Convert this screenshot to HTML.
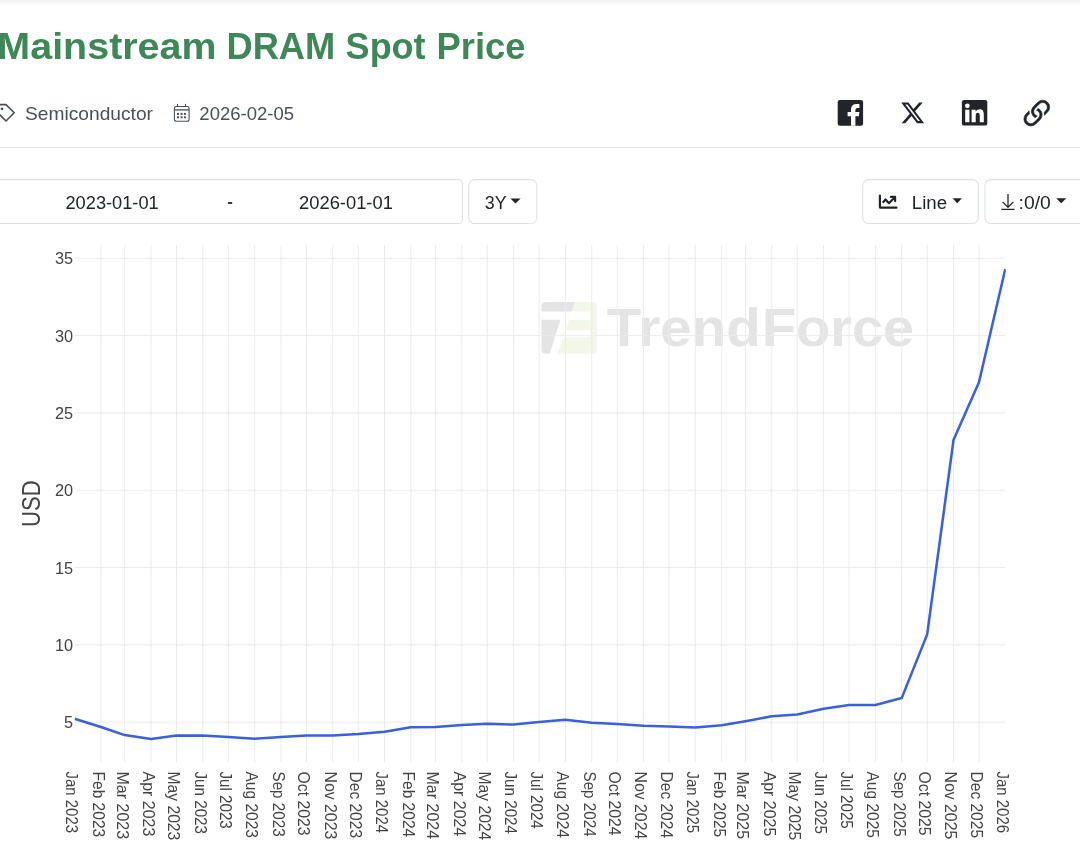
<!DOCTYPE html>
<html><head><meta charset="utf-8"><title>Mainstream DRAM Spot Price</title>
<style>
html,body{margin:0;padding:0;background:#fff;width:1080px;height:868px;overflow:hidden;}
svg{display:block;will-change:transform;font-family:"Liberation Sans",sans-serif;}
</style></head><body>
<svg width="1080" height="868" viewBox="0 0 1080 868">
<defs><linearGradient id="topg" x1="0" y1="0" x2="0" y2="1"><stop offset="0" stop-color="#f2f2f2"/><stop offset="1" stop-color="#ffffff"/></linearGradient></defs>
<rect x="0" y="0" width="1080" height="868" fill="#fff"/>
<rect x="0" y="0" width="1080" height="6" fill="url(#topg)"/>
<g>
<path d="M546 302.1 H575.1 L571.7 311.6 H541.4 V306.6 Q541.4 302.1 546 302.1 Z" fill="#e4e4e4"/>
<path d="M541.4 319.7 H560.5 L549.6 353.8 H546 Q541.4 353.8 541.4 349.2 Z" fill="#e4e4e4"/>
<path d="M575.1 302.1 H592.6 Q597.1 302.1 597.1 306.6 V349.3 Q597.1 353.8 592.6 353.8 H557.1 L563.8 337.3 H590.4 V330.2 H566.1 L569.1 319.7 H590.4 V311.6 H571.7 Z" fill="#f3f7e8"/>
<g font-family="Liberation Sans" fill="#e4e4e4">
<text x="606.83" y="346.20" font-size="53.8" font-weight="bold" textLength="153.85" lengthAdjust="spacingAndGlyphs">Trend</text>
<text x="761.92" y="346.20" font-size="53.8" font-weight="bold" textLength="152.33" lengthAdjust="spacingAndGlyphs">Force</text>
</g></g>
<g fill="#ebebeb"><rect x="100.42" y="245" width="1" height="517"/><rect x="124.20" y="245" width="1" height="517"/><rect x="150.53" y="245" width="1" height="517"/><rect x="176.00" y="245" width="1" height="517"/><rect x="202.33" y="245" width="1" height="517"/><rect x="227.80" y="245" width="1" height="517"/><rect x="254.13" y="245" width="1" height="517"/><rect x="280.45" y="245" width="1" height="517"/><rect x="305.93" y="245" width="1" height="517"/><rect x="332.25" y="245" width="1" height="517"/><rect x="357.73" y="245" width="1" height="517"/><rect x="384.05" y="245" width="1" height="517"/><rect x="410.37" y="245" width="1" height="517"/><rect x="435.00" y="245" width="1" height="517"/><rect x="461.33" y="245" width="1" height="517"/><rect x="486.80" y="245" width="1" height="517"/><rect x="513.13" y="245" width="1" height="517"/><rect x="538.60" y="245" width="1" height="517"/><rect x="564.93" y="245" width="1" height="517"/><rect x="591.25" y="245" width="1" height="517"/><rect x="616.73" y="245" width="1" height="517"/><rect x="643.05" y="245" width="1" height="517"/><rect x="668.53" y="245" width="1" height="517"/><rect x="694.85" y="245" width="1" height="517"/><rect x="721.17" y="245" width="1" height="517"/><rect x="744.95" y="245" width="1" height="517"/><rect x="771.28" y="245" width="1" height="517"/><rect x="796.75" y="245" width="1" height="517"/><rect x="823.08" y="245" width="1" height="517"/><rect x="848.55" y="245" width="1" height="517"/><rect x="874.88" y="245" width="1" height="517"/><rect x="901.20" y="245" width="1" height="517"/><rect x="926.68" y="245" width="1" height="517"/><rect x="953.00" y="245" width="1" height="517"/><rect x="978.48" y="245" width="1" height="517"/><rect x="74.60" y="721.70" width="931.00" height="1"/><rect x="74.60" y="644.38" width="931.00" height="1"/><rect x="74.60" y="567.07" width="931.00" height="1"/><rect x="74.60" y="489.75" width="931.00" height="1"/><rect x="74.60" y="412.43" width="931.00" height="1"/><rect x="74.60" y="335.12" width="931.00" height="1"/><rect x="74.60" y="257.80" width="931.00" height="1"/></g>
<clipPath id="plotclip"><rect x="74.6" y="245" width="931.1999999999999" height="517"/></clipPath><polyline clip-path="url(#plotclip)" points="74.60,718.70 100.92,727.00 124.70,735.10 151.03,739.00 176.50,735.60 202.83,735.60 228.30,736.90 254.63,738.70 280.95,737.10 306.43,735.60 332.75,735.40 358.23,734.00 384.55,731.80 410.87,727.20 435.50,727.00 461.83,725.10 487.30,723.70 513.63,724.60 539.10,722.00 565.43,719.80 591.75,722.70 617.23,724.00 643.55,725.70 669.03,726.60 695.35,727.50 721.67,725.30 745.45,721.20 771.78,716.30 797.25,714.40 823.58,708.80 849.05,705.00 875.38,705.00 901.70,698.10 927.18,634.40 953.50,440.10 978.98,382.30 1005.30,269.00" fill="none" stroke="#3860e0" stroke-width="2.55" stroke-linejoin="round"/>
<g font-family="Liberation Sans" fill="#444"><text x="64.11" y="728.30" font-size="16.3" textLength="9.07" lengthAdjust="spacingAndGlyphs">5</text><text x="55.02" y="650.98" font-size="16.3" textLength="18.13" lengthAdjust="spacingAndGlyphs">10</text><text x="55.06" y="573.67" font-size="16.3" textLength="18.13" lengthAdjust="spacingAndGlyphs">15</text><text x="55.02" y="496.35" font-size="16.3" textLength="18.13" lengthAdjust="spacingAndGlyphs">20</text><text x="55.06" y="419.03" font-size="16.3" textLength="18.13" lengthAdjust="spacingAndGlyphs">25</text><text x="55.02" y="341.72" font-size="16.3" textLength="18.13" lengthAdjust="spacingAndGlyphs">30</text><text x="55.06" y="264.40" font-size="16.3" textLength="18.13" lengthAdjust="spacingAndGlyphs">35</text></g>
<g font-family="Liberation Sans" font-size="16.5" fill="#444"><text transform="translate(66.45,771.5) rotate(90)" x="0" y="0" textLength="61.57" lengthAdjust="spacingAndGlyphs">Jan 2023</text><text transform="translate(92.77,771.5) rotate(90)" x="0" y="0" textLength="65.67" lengthAdjust="spacingAndGlyphs">Feb 2023</text><text transform="translate(116.55,771.5) rotate(90)" x="0" y="0" textLength="67.61" lengthAdjust="spacingAndGlyphs">Mar 2023</text><text transform="translate(142.88,771.5) rotate(90)" x="0" y="0" textLength="64.80" lengthAdjust="spacingAndGlyphs">Apr 2023</text><text transform="translate(168.35,771.5) rotate(90)" x="0" y="0" textLength="68.79" lengthAdjust="spacingAndGlyphs">May 2023</text><text transform="translate(194.68,771.5) rotate(90)" x="0" y="0" textLength="62.48" lengthAdjust="spacingAndGlyphs">Jun 2023</text><text transform="translate(220.15,771.5) rotate(90)" x="0" y="0" textLength="57.26" lengthAdjust="spacingAndGlyphs">Jul 2023</text><text transform="translate(246.48,771.5) rotate(90)" x="0" y="0" textLength="66.39" lengthAdjust="spacingAndGlyphs">Aug 2023</text><text transform="translate(272.80,771.5) rotate(90)" x="0" y="0" textLength="65.17" lengthAdjust="spacingAndGlyphs">Sep 2023</text><text transform="translate(298.28,771.5) rotate(90)" x="0" y="0" textLength="63.98" lengthAdjust="spacingAndGlyphs">Oct 2023</text><text transform="translate(324.60,771.5) rotate(90)" x="0" y="0" textLength="67.79" lengthAdjust="spacingAndGlyphs">Nov 2023</text><text transform="translate(350.08,771.5) rotate(90)" x="0" y="0" textLength="66.57" lengthAdjust="spacingAndGlyphs">Dec 2023</text><text transform="translate(376.40,771.5) rotate(90)" x="0" y="0" textLength="61.57" lengthAdjust="spacingAndGlyphs">Jan 2024</text><text transform="translate(402.72,771.5) rotate(90)" x="0" y="0" textLength="65.67" lengthAdjust="spacingAndGlyphs">Feb 2024</text><text transform="translate(427.35,771.5) rotate(90)" x="0" y="0" textLength="67.61" lengthAdjust="spacingAndGlyphs">Mar 2024</text><text transform="translate(453.68,771.5) rotate(90)" x="0" y="0" textLength="64.80" lengthAdjust="spacingAndGlyphs">Apr 2024</text><text transform="translate(479.15,771.5) rotate(90)" x="0" y="0" textLength="68.79" lengthAdjust="spacingAndGlyphs">May 2024</text><text transform="translate(505.48,771.5) rotate(90)" x="0" y="0" textLength="62.48" lengthAdjust="spacingAndGlyphs">Jun 2024</text><text transform="translate(530.95,771.5) rotate(90)" x="0" y="0" textLength="57.26" lengthAdjust="spacingAndGlyphs">Jul 2024</text><text transform="translate(557.28,771.5) rotate(90)" x="0" y="0" textLength="66.39" lengthAdjust="spacingAndGlyphs">Aug 2024</text><text transform="translate(583.60,771.5) rotate(90)" x="0" y="0" textLength="65.17" lengthAdjust="spacingAndGlyphs">Sep 2024</text><text transform="translate(609.08,771.5) rotate(90)" x="0" y="0" textLength="63.98" lengthAdjust="spacingAndGlyphs">Oct 2024</text><text transform="translate(635.40,771.5) rotate(90)" x="0" y="0" textLength="67.79" lengthAdjust="spacingAndGlyphs">Nov 2024</text><text transform="translate(660.88,771.5) rotate(90)" x="0" y="0" textLength="66.57" lengthAdjust="spacingAndGlyphs">Dec 2024</text><text transform="translate(687.20,771.5) rotate(90)" x="0" y="0" textLength="61.57" lengthAdjust="spacingAndGlyphs">Jan 2025</text><text transform="translate(713.52,771.5) rotate(90)" x="0" y="0" textLength="65.67" lengthAdjust="spacingAndGlyphs">Feb 2025</text><text transform="translate(737.30,771.5) rotate(90)" x="0" y="0" textLength="67.61" lengthAdjust="spacingAndGlyphs">Mar 2025</text><text transform="translate(763.63,771.5) rotate(90)" x="0" y="0" textLength="64.80" lengthAdjust="spacingAndGlyphs">Apr 2025</text><text transform="translate(789.10,771.5) rotate(90)" x="0" y="0" textLength="68.79" lengthAdjust="spacingAndGlyphs">May 2025</text><text transform="translate(815.43,771.5) rotate(90)" x="0" y="0" textLength="62.48" lengthAdjust="spacingAndGlyphs">Jun 2025</text><text transform="translate(840.90,771.5) rotate(90)" x="0" y="0" textLength="57.26" lengthAdjust="spacingAndGlyphs">Jul 2025</text><text transform="translate(867.23,771.5) rotate(90)" x="0" y="0" textLength="66.39" lengthAdjust="spacingAndGlyphs">Aug 2025</text><text transform="translate(893.55,771.5) rotate(90)" x="0" y="0" textLength="65.17" lengthAdjust="spacingAndGlyphs">Sep 2025</text><text transform="translate(919.03,771.5) rotate(90)" x="0" y="0" textLength="63.98" lengthAdjust="spacingAndGlyphs">Oct 2025</text><text transform="translate(945.35,771.5) rotate(90)" x="0" y="0" textLength="67.79" lengthAdjust="spacingAndGlyphs">Nov 2025</text><text transform="translate(970.83,771.5) rotate(90)" x="0" y="0" textLength="66.57" lengthAdjust="spacingAndGlyphs">Dec 2025</text><text transform="translate(997.15,771.5) rotate(90)" x="0" y="0" textLength="61.57" lengthAdjust="spacingAndGlyphs">Jan 2026</text></g>
<g transform="translate(40,525.2) rotate(-90)" font-family="Liberation Sans" fill="#444"><text x="-1.71" y="0.00" font-size="25" textLength="46.69" lengthAdjust="spacingAndGlyphs">USD</text></g>
<g font-family="Liberation Sans" fill="#3e8757"><text x="-2.66" y="59.40" font-size="37.4" font-weight="bold" textLength="219.23" lengthAdjust="spacingAndGlyphs">Mainstream</text><text x="226.45" y="59.40" font-size="37.4" font-weight="bold" textLength="108.88" lengthAdjust="spacingAndGlyphs">DRAM</text><text x="345.62" y="59.40" font-size="37.4" font-weight="bold" textLength="80.00" lengthAdjust="spacingAndGlyphs">Spot</text><text x="436.54" y="59.40" font-size="37.4" font-weight="bold" textLength="89.09" lengthAdjust="spacingAndGlyphs">Price</text></g>
<g fill="none" stroke="#495057" stroke-width="1.6" stroke-linejoin="round">
<path d="M-6 104.6 H6 L14.2 112.8 L6 121 L-2 113"/></g>
<circle cx="1.95" cy="108.8" r="1.35" fill="#495057"/>
<g font-family="Liberation Sans" fill="#495057"><text x="25.04" y="119.90" font-size="18.1" textLength="127.90" lengthAdjust="spacingAndGlyphs">Semiconductor</text><text x="199.37" y="119.90" font-size="18.1" textLength="94.72" lengthAdjust="spacingAndGlyphs">2026-02-05</text></g>
<g fill="none" stroke="#495057" stroke-width="1.1">
<rect x="174.4" y="106.5" width="14.7" height="14.7" rx="2"/>
<line x1="174.4" y1="109.9" x2="189.1" y2="109.9" stroke-width="1.3"/>
<line x1="177.5" y1="103.9" x2="177.5" y2="106.5"/><line x1="185.5" y1="103.9" x2="185.5" y2="106.5"/>
</g><g fill="#495057">
<rect x="177" y="112.9" width="2" height="2"/><rect x="180.5" y="112.9" width="2" height="2"/><rect x="183.9" y="112.9" width="2" height="2"/>
<rect x="177" y="116.3" width="2" height="2"/><rect x="180.5" y="116.3" width="2" height="2"/><rect x="183.9" y="116.3" width="2" height="2"/>
</g>
<rect x="837.7" y="100.1" width="25.4" height="25.7" rx="2.2" fill="#212529"/>
<path fill="#fff" d="M851 125.8 V116.2 H847.6 V111.9 H851 V109.6 Q851 104 856.6 104 H859.4 V108.1 H857.4 Q855.4 108.1 855.4 110 V111.9 H859.4 L858.8 116.2 H855.4 V125.8 Z"/>
<g transform="translate(899.87,100.1) scale(0.0498)"><path fill="#212529" d="M389.2 48h70.6L305.6 224.2 487 464H345L233.7 318.6 106.5 464H35.8L200.7 275.5 26.8 48H172.4L272.9 180.9 389.2 48zM364.4 421.8h39.1L151.1 88h-42L364.4 421.8z"/></g>
<rect x="961.9" y="100.1" width="25.4" height="25.5" rx="2.2" fill="#212529"/>
<g fill="#fff"><circle cx="967.35" cy="105.85" r="2.35"/><rect x="965.2" y="109.7" width="4.2" height="12.55"/>
<path d="M971.6 109.7 H975.6 V111.4 Q977 109.2 980 109.2 Q983.8 109.2 983.8 114.5 V122.25 H979.75 V115.3 Q979.75 112.85 977.7 112.85 Q975.7 112.85 975.7 115.6 V122.25 H971.6 Z"/></g>
<g transform="translate(1018.17,95.63) scale(2.326)" fill="#212529" stroke="#212529" stroke-width="0.28" stroke-linejoin="round"><path d="M4.715 6.542 3.343 7.914a3 3 0 1 0 4.243 4.243l1.828-1.829A3 3 0 0 0 8.586 5.5L8 6.086a1 1 0 0 0-.154.199 2 2 0 0 1 .861 3.337L6.88 11.45a2 2 0 1 1-2.83-2.83l.793-.792a4 4 0 0 1-.128-1.287z"/><path d="M6.586 4.672A3 3 0 0 0 7.414 9.5l.775-.776a2 2 0 0 1-.896-3.346L9.12 3.55a2 2 0 1 1 2.83 2.83l-.793.792c.112.42.155.855.128 1.287l1.372-1.372a3 3 0 1 0-4.243-4.243z"/></g>
<rect x="0" y="147" width="1080" height="1" fill="#dee2e6"/>
<g fill="#fff" stroke="#dee2e6" stroke-width="1.1">
<rect x="-20" y="179.6" width="482.44" height="43.95" rx="4"/>
<rect x="468.83" y="179.6" width="67.93" height="43.95" rx="6"/>
<rect x="862.69" y="179.6" width="115.7" height="43.95" rx="6"/>
<rect x="984.96" y="179.6" width="120" height="43.95" rx="6"/>
</g>
<g font-family="Liberation Sans" fill="#212529">
<text x="65.49" y="208.90" font-size="18.3" textLength="93.18" lengthAdjust="spacingAndGlyphs">2023-01-01</text>
<rect x="227.9" y="202.1" width="4.3" height="1.8"/>
<text x="299.08" y="208.90" font-size="18.3" textLength="93.79" lengthAdjust="spacingAndGlyphs">2026-01-01</text>
<text x="484.83" y="208.90" font-size="18.3" textLength="21.83" lengthAdjust="spacingAndGlyphs">3Y</text>
<text x="911.86" y="209.10" font-size="18.3" textLength="35.24" lengthAdjust="spacingAndGlyphs">Line</text>
<text x="1018.61" y="209.10" font-size="18.3" textLength="32.22" lengthAdjust="spacingAndGlyphs">:0/0</text>
</g>
<g fill="#212529">
<path d="M510.4 198.4 H520.6 L515.5 203.5 Z"/>
<path d="M952.6 198.3 H961.9 L957.25 203.3 Z"/>
<path d="M1056.2 198.3 H1066.3 L1061.25 203.3 Z"/>
</g>
<g fill="none" stroke="#212529" stroke-width="2.2" stroke-linecap="round" stroke-linejoin="round">
<path d="M879.9 195.7 V206.9 Q879.9 207.7 880.7 207.7 H896.5"/>
<path d="M883.3 202 L885.5 199.5 L888.9 203.2 L894.4 197.8"/>
<path d="M890.9 196.9 H895.1 V201.1"/>
</g>
<g fill="none" stroke="#212529" stroke-width="1.3">
<path d="M1008 194.1 V206.5"/><path d="M1002.6 201.9 L1008 207.3 L1013.4 201.9"/>
<path d="M1001.3 209.4 H1014.6"/>
</g>
</svg>
</body></html>
